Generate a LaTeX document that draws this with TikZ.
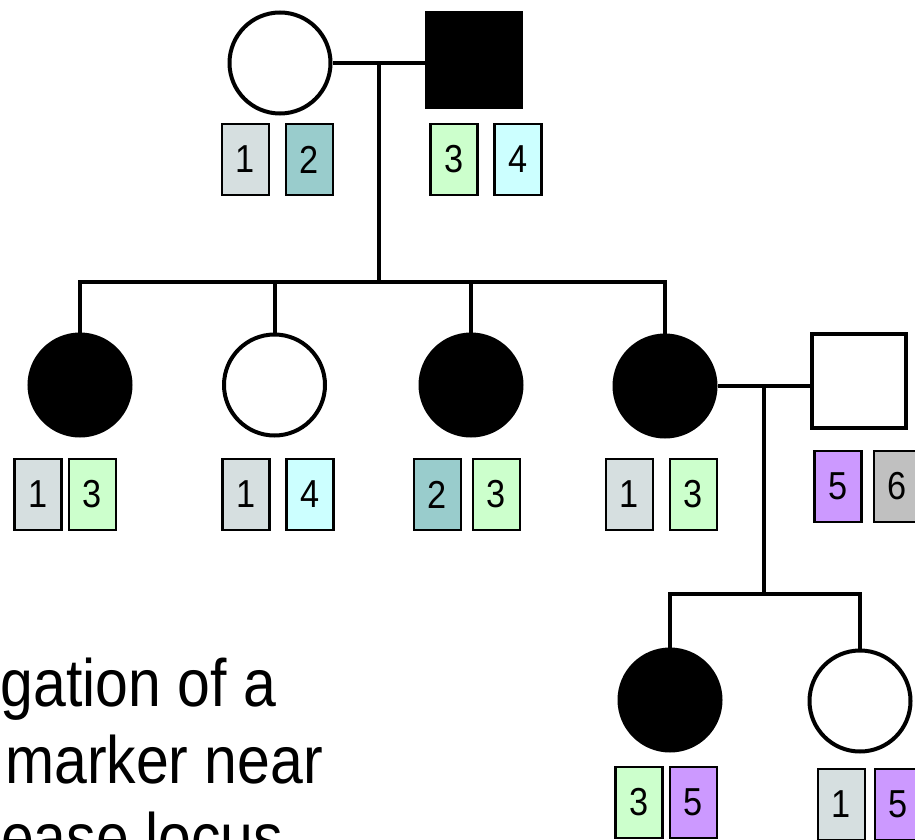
\documentclass[tikz,border=0pt]{standalone}
\usepackage{fontspec}
\setmainfont{Liberation Sans}
\newfontfamily\slidefont[FakeStretch=0.88]{Liberation Sans}
\usetikzlibrary{calc}

\definecolor{allelegrey}{HTML}{D6DFE0}
\definecolor{alleleteal}{HTML}{99CCCC}
\definecolor{allelegreen}{HTML}{CCFFCC}
\definecolor{allelecyan}{HTML}{CCFFFF}
\definecolor{allelepurple}{HTML}{CC99FF}
\definecolor{allelesilver}{HTML}{C0C0C0}

\begin{document}
\begin{tikzpicture}[x=1pt,y=-1pt,line width=4pt,
    female/.style={circle,draw,minimum size=101pt,inner sep=0pt},
    male/.style={rectangle,draw,minimum size=94pt,inner sep=0pt},
    affected/.style={fill=black},
    allele/.style={draw,line width=2.2pt,minimum width=47pt,minimum height=71pt,
        inner sep=0pt,font=\slidefont\fontsize{39}{39}\selectfont},
    caption/.style={anchor=base east,inner sep=0pt,
        font=\slidefont\fontsize{67}{67}\selectfont}]
    \clip (0,0) rectangle (915,840);

    % generation I
    \node[female] (i1) at (280,63) {};
    \node[male,affected] (i2) at (474,60) {};
    \node[allele,fill=allelegrey] (i1a) at (245.5,159.5) {1};
    \node[allele,fill=alleleteal] (i1b) at (309.5,159.5) {2};
    \node[allele,fill=allelegreen] (i2a) at (454,159.5) {3};
    \node[allele,fill=allelecyan] (i2b) at (518,159.5) {4};

    % generation II
    \node[female,affected] (ii1) at (80,385) {};
    \node[female] (ii2) at (274.5,385) {};
    \node[female,affected] (ii3) at (471,385) {};
    \node[female,affected] (ii4) at (665,386) {};
    \node[male] (ii5) at (859,381) {};
    \node[allele,fill=allelegrey] (ii1a) at (38,494.5) {1};
    \node[allele,fill=allelegreen] (ii1b) at (92.5,494.5) {3};
    \node[allele,fill=allelegrey] (ii2a) at (246,494.5) {1};
    \node[allele,fill=allelecyan] (ii2b) at (310,494.5) {4};
    \node[allele,fill=alleleteal] (ii3a) at (437.5,494.5) {2};
    \node[allele,fill=allelegreen] (ii3b) at (496.5,494.5) {3};
    \node[allele,fill=allelegrey] (ii4a) at (629.5,494.5) {1};
    \node[allele,fill=allelegreen] (ii4b) at (693.5,494.5) {3};
    \node[allele,fill=allelepurple] (ii5a) at (838,486.5) {5};
    \node[allele,fill=allelesilver] (ii5b) at (897.5,486.5) {6};

    % generation III
    \node[female,affected] (iii1) at (670,700) {};
    \node[female] (iii2) at (860,701) {};
    \node[allele,fill=allelegreen] (iii1a) at (639,802.5) {3};
    \node[allele,fill=allelepurple] (iii1b) at (693.5,802.5) {5};
    \node[allele,fill=allelegrey] (iii2a) at (841.5,804.5) {1};
    \node[allele,fill=allelepurple] (iii2b) at (898.5,804.5) {5};

    % matings and sibships
    \draw (i1.east) -- (i1.east -| i2.west);
    \coordinate (mI) at ($(i1.east)!0.5!(i1.east -| i2.west)$);
    \coordinate (sI) at ($(mI)+(0,219)$);
    \draw (mI) -- (sI);
    \draw (ii1.north) |- (sI) -| (ii4.north);
    \draw (ii2.north) -- (ii2.north |- sI);
    \draw (ii3.north) -- (ii3.north |- sI);

    \draw (ii4.east) -- (ii4.east -| ii5.west);
    \coordinate (mII) at ($(ii4.east)!0.5!(ii4.east -| ii5.west)$);
    \coordinate (sII) at ($(mII)+(0,208)$);
    \draw (mII) -- (sII);
    \draw (iii1.north) |- (sII) -| (iii2.north);

    \node[caption] (capA) at (278,706) {Segregation of a};
    \node[caption] (capB) at (325,783) {marker near};
    \node[caption] (capC) at (285,860) {disease locus};
\end{tikzpicture}
\end{document}
